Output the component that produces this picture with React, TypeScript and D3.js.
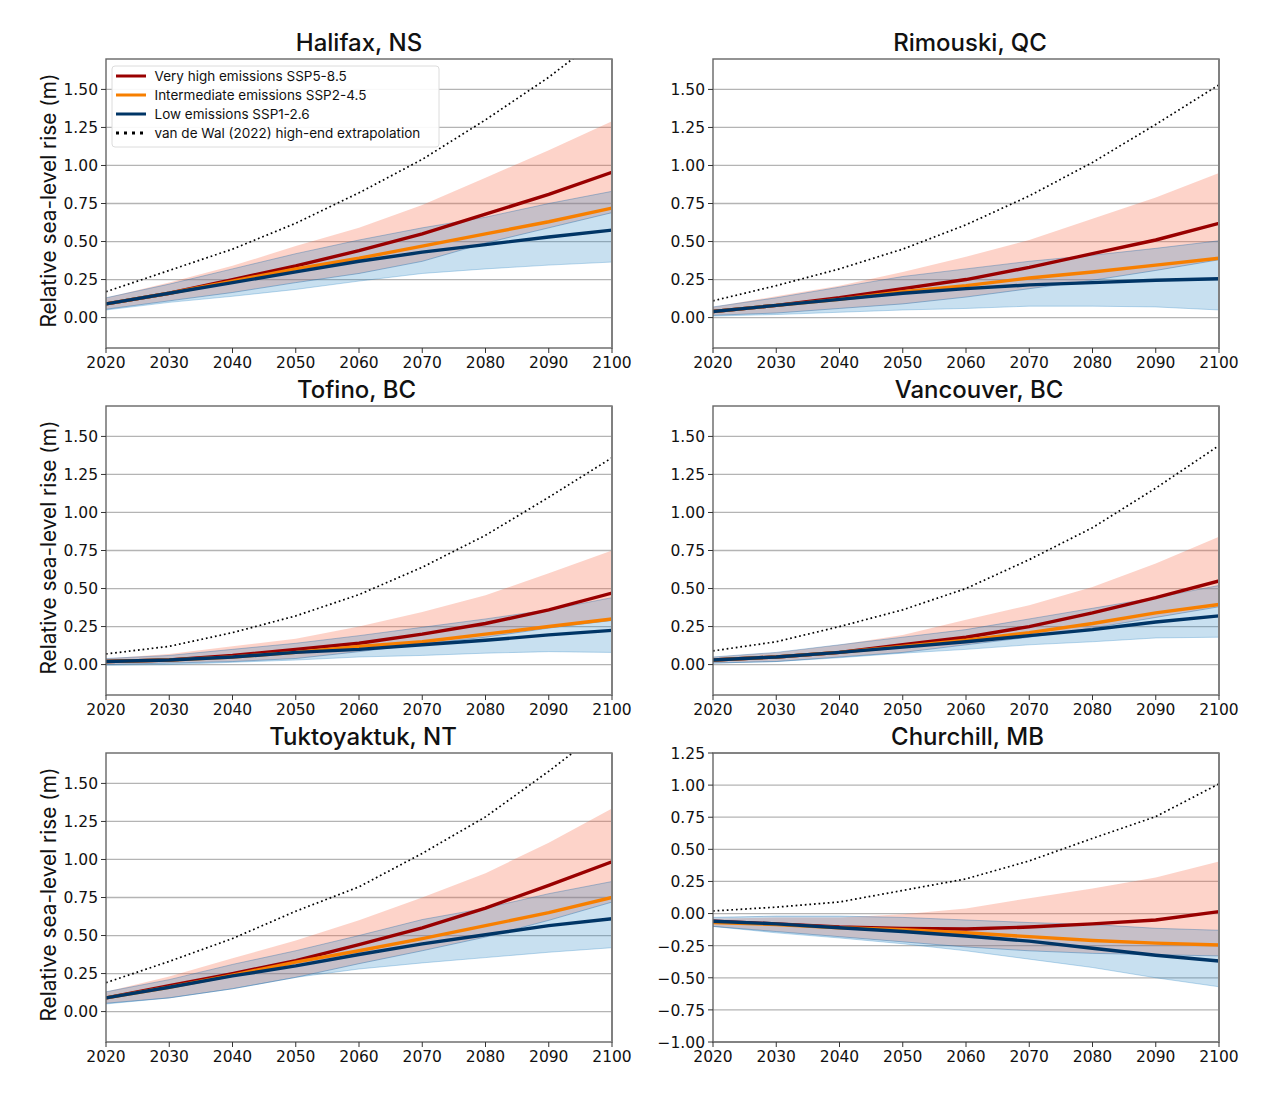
import * as d3 from "d3";

const years = [2020, 2030, 2040, 2050, 2060, 2070, 2080, 2090, 2100];
const xTicks = years;
const seaTicks = [0, 0.25, 0.5, 0.75, 1, 1.25, 1.5];
const churchillTicks = [-1, -0.75, -0.5, -0.25, 0, 0.25, 0.5, 0.75, 1, 1.25];

// medians
const halifaxHigh = [0.09, 0.16, 0.25, 0.34, 0.44, 0.55, 0.68, 0.81, 0.955];
const halifaxMid = [0.09, 0.16, 0.24, 0.32, 0.39, 0.47, 0.55, 0.63, 0.72];
const halifaxLow = [0.09, 0.16, 0.23, 0.3, 0.37, 0.43, 0.48, 0.53, 0.575];
const halifaxWal = [0.17, 0.31, 0.45, 0.62, 0.82, 1.04, 1.3, 1.58, 1.9];
const rimouskiHigh = [0.04, 0.08, 0.13, 0.19, 0.25, 0.33, 0.42, 0.51, 0.62];
const rimouskiMid = [0.04, 0.08, 0.12, 0.17, 0.21, 0.26, 0.3, 0.345, 0.39];
const rimouskiLow = [0.04, 0.08, 0.12, 0.16, 0.19, 0.215, 0.23, 0.245, 0.255];
const rimouskiWal = [0.11, 0.21, 0.32, 0.45, 0.61, 0.8, 1.02, 1.27, 1.53];
const tofinoHigh = [0.02, 0.03, 0.06, 0.1, 0.14, 0.2, 0.27, 0.36, 0.47];
const tofinoMid = [0.02, 0.03, 0.05, 0.08, 0.12, 0.15, 0.2, 0.25, 0.3];
const tofinoLow = [0.02, 0.03, 0.05, 0.08, 0.1, 0.13, 0.16, 0.195, 0.225];
const tofinoWal = [0.07, 0.12, 0.21, 0.32, 0.46, 0.64, 0.85, 1.1, 1.36];
const vancouverHigh = [0.03, 0.05, 0.08, 0.13, 0.18, 0.25, 0.34, 0.44, 0.55];
const vancouverMid = [0.03, 0.05, 0.08, 0.12, 0.16, 0.21, 0.27, 0.34, 0.395];
const vancouverLow = [0.03, 0.05, 0.08, 0.115, 0.15, 0.19, 0.23, 0.28, 0.32];
const vancouverWal = [0.09, 0.15, 0.25, 0.36, 0.5, 0.69, 0.9, 1.16, 1.44];
const tuktoyaktukHigh = [0.09, 0.17, 0.25, 0.335, 0.44, 0.55, 0.68, 0.83, 0.985];
const tuktoyaktukMid = [0.09, 0.16, 0.24, 0.325, 0.4, 0.48, 0.565, 0.65, 0.75];
const tuktoyaktukLow = [0.09, 0.16, 0.235, 0.3, 0.375, 0.445, 0.505, 0.565, 0.61];
const tuktoyaktukWal = [0.19, 0.33, 0.48, 0.66, 0.82, 1.04, 1.28, 1.58, 1.9];
const churchillHigh = [-0.06, -0.08, -0.105, -0.115, -0.12, -0.105, -0.08, -0.05, 0.015];
const churchillMid = [-0.07, -0.085, -0.11, -0.125, -0.15, -0.18, -0.21, -0.23, -0.245];
const churchillLow = [-0.06, -0.08, -0.11, -0.14, -0.175, -0.215, -0.27, -0.325, -0.37];
const churchillWal = [0.02, 0.05, 0.09, 0.18, 0.27, 0.41, 0.585, 0.755, 1.01];

// likely ranges: top and bottom of SSP5-8.5 and SSP1-2.6
const halifaxHighTop = [0.13, 0.23, 0.34, 0.47, 0.59, 0.74, 0.92, 1.1, 1.29];
const halifaxHighBot = [0.055, 0.11, 0.165, 0.23, 0.29, 0.37, 0.49, 0.59, 0.69];
const halifaxLowTop = [0.13, 0.22, 0.32, 0.42, 0.51, 0.59, 0.66, 0.75, 0.83];
const halifaxLowBot = [0.05, 0.1, 0.14, 0.185, 0.24, 0.29, 0.32, 0.345, 0.365];
const rimouskiHighTop = [0.07, 0.14, 0.21, 0.3, 0.4, 0.51, 0.65, 0.79, 0.95];
const rimouskiHighBot = [0.015, 0.03, 0.06, 0.09, 0.135, 0.19, 0.245, 0.31, 0.38];
const rimouskiLowTop = [0.07, 0.13, 0.2, 0.27, 0.32, 0.37, 0.41, 0.455, 0.505];
const rimouskiLowBot = [0.01, 0.02, 0.035, 0.05, 0.06, 0.075, 0.075, 0.07, 0.05];
const tofinoHighTop = [0.04, 0.07, 0.12, 0.17, 0.25, 0.345, 0.455, 0.6, 0.75];
const tofinoHighBot = [0, 0.01, 0.02, 0.04, 0.085, 0.135, 0.18, 0.24, 0.29];
const tofinoLowTop = [0.04, 0.06, 0.1, 0.14, 0.19, 0.245, 0.3, 0.36, 0.44];
const tofinoLowBot = [-0.005, 0, 0.015, 0.03, 0.05, 0.06, 0.075, 0.085, 0.08];
const vancouverHighTop = [0.05, 0.08, 0.13, 0.195, 0.295, 0.39, 0.51, 0.665, 0.84];
const vancouverHighBot = [0.01, 0.02, 0.05, 0.08, 0.13, 0.18, 0.24, 0.31, 0.38];
const vancouverLowTop = [0.05, 0.08, 0.13, 0.18, 0.23, 0.3, 0.37, 0.44, 0.52];
const vancouverLowBot = [0.01, 0.02, 0.045, 0.075, 0.1, 0.13, 0.15, 0.175, 0.18];
const tuktoyaktukHighTop = [0.13, 0.23, 0.35, 0.467, 0.6, 0.75, 0.91, 1.11, 1.335];
const tuktoyaktukHighBot = [0.055, 0.09, 0.15, 0.225, 0.315, 0.4, 0.49, 0.6, 0.72];
const tuktoyaktukLowTop = [0.13, 0.21, 0.31, 0.4, 0.5, 0.605, 0.68, 0.775, 0.855];
const tuktoyaktukLowBot = [0.05, 0.09, 0.15, 0.225, 0.28, 0.32, 0.355, 0.39, 0.42];
const churchillHighTop = [-0.04, -0.03, -0.03, -0.005, 0.04, 0.12, 0.195, 0.28, 0.405];
const churchillHighBot = [-0.1, -0.14, -0.18, -0.22, -0.26, -0.29, -0.31, -0.32, -0.33];
const churchillLowTop = [-0.03, -0.02, -0.02, -0.03, -0.05, -0.07, -0.085, -0.115, -0.13];
const churchillLowBot = [-0.1, -0.15, -0.19, -0.235, -0.29, -0.355, -0.42, -0.5, -0.57];

const legendLabels = [
  "Very high emissions SSP5-8.5",
  "Intermediate emissions SSP2-4.5",
  "Low emissions SSP1-2.6",
  "van de Wal (2022) high-end extrapolation",
];

const RED = "#990000";
const ORANGE = "#f77f00";
const NAVY = "#003566";
const TEXT_FONT = "Inter, sans-serif";
const TICK_FONT = "'DejaVu Sans', sans-serif";

const panels = [
  { title: "Halifax, NS", titleDx: 0, col: 0, row: 0, high: halifaxHigh, mid: halifaxMid, low: halifaxLow, wal: halifaxWal, highTop: halifaxHighTop, highBot: halifaxHighBot, lowTop: halifaxLowTop, lowBot: halifaxLowBot, domain: [-0.2, 1.7], ticks: seaTicks },
  { title: "Rimouski, QC", titleDx: 4, col: 1, row: 0, high: rimouskiHigh, mid: rimouskiMid, low: rimouskiLow, wal: rimouskiWal, highTop: rimouskiHighTop, highBot: rimouskiHighBot, lowTop: rimouskiLowTop, lowBot: rimouskiLowBot, domain: [-0.2, 1.7], ticks: seaTicks },
  { title: "Tofino, BC", titleDx: -2.5, col: 0, row: 1, high: tofinoHigh, mid: tofinoMid, low: tofinoLow, wal: tofinoWal, highTop: tofinoHighTop, highBot: tofinoHighBot, lowTop: tofinoLowTop, lowBot: tofinoLowBot, domain: [-0.2, 1.7], ticks: seaTicks },
  { title: "Vancouver, BC", titleDx: 13, col: 1, row: 1, high: vancouverHigh, mid: vancouverMid, low: vancouverLow, wal: vancouverWal, highTop: vancouverHighTop, highBot: vancouverHighBot, lowTop: vancouverLowTop, lowBot: vancouverLowBot, domain: [-0.2, 1.7], ticks: seaTicks },
  { title: "Tuktoyaktuk, NT", titleDx: 4, col: 0, row: 2, high: tuktoyaktukHigh, mid: tuktoyaktukMid, low: tuktoyaktukLow, wal: tuktoyaktukWal, highTop: tuktoyaktukHighTop, highBot: tuktoyaktukHighBot, lowTop: tuktoyaktukLowTop, lowBot: tuktoyaktukLowBot, domain: [-0.2, 1.7], ticks: seaTicks },
  { title: "Churchill, MB", titleDx: 1.5, col: 1, row: 2, high: churchillHigh, mid: churchillMid, low: churchillLow, wal: churchillWal, highTop: churchillHighTop, highBot: churchillHighBot, lowTop: churchillLowTop, lowBot: churchillLowBot, domain: [-1, 1.25], ticks: churchillTicks },
];

const colLeft = [106, 713];
const rowTop = [59, 406, 753];
const plotW = 506;
const plotH = 289;

const Panel = ({ p, index }: { p: (typeof panels)[number]; index: number }) => {
  const x = d3.scaleLinear().domain([2020, 2100]).range([0, plotW]);
  const y = d3.scaleLinear().domain(p.domain).range([plotH, 0]);
  const line = d3
    .line<number>()
    .x((_, i) => x(years[i]))
    .y((v) => y(v));
  const band = (top: number[], bot: number[]) =>
    d3
      .area<number>()
      .x((_, i) => x(years[i]))
      .y0((_, i) => y(bot[i]))
      .y1((v) => y(v))(top) ?? "";
  const clipId = `plot-${index}`;

  return (
    <g transform={`translate(${colLeft[p.col]},${rowTop[p.row]})`}>
      <clipPath id={clipId}>
        <rect width={plotW} height={plotH} />
      </clipPath>

      {/* gridlines */}
      {p.ticks.map((t) => (
        <line key={t} x1={0} x2={plotW} y1={y(t)} y2={y(t)} stroke="#b4b4b4" strokeWidth={1.3} />
      ))}

      <g clipPath={`url(#${clipId})`}>
        <path d={line(p.wal) ?? ""} fill="none" stroke="#000" strokeWidth={1.7} strokeDasharray="1.7 2.9" />
        <path d={band(p.highTop, p.highBot)} fill="#f9623c" fillOpacity={0.28} />
        <path d={band(p.lowTop, p.lowBot)} fill="#2b86c5" fillOpacity={0.26} />
        <path d={line(p.lowBot) ?? ""} fill="none" stroke="#2b86c5" strokeOpacity={0.3} strokeWidth={1} />
        <path d={line(p.lowTop) ?? ""} fill="none" stroke="#1f6aa8" strokeOpacity={0.35} strokeWidth={1} />
        <path d={line(p.highBot) ?? ""} fill="none" stroke="#1f6aa8" strokeOpacity={0.4} strokeWidth={1} />
        <path d={line(p.high) ?? ""} fill="none" stroke={RED} strokeWidth={3.4} />
        <path d={line(p.mid) ?? ""} fill="none" stroke={ORANGE} strokeWidth={3.4} />
        <path d={line(p.low) ?? ""} fill="none" stroke={NAVY} strokeWidth={3.4} />
      </g>

      {/* frame */}
      <rect width={plotW} height={plotH} fill="none" stroke="#666" strokeWidth={1.4} />
      <line x1={plotW} x2={plotW} y1={0} y2={plotH} stroke="#808080" strokeWidth={2} />

      {/* x axis */}
      {xTicks.map((t) => (
        <g key={t} transform={`translate(${x(t)},${plotH})`}>
          <line y2={5} stroke="#333" strokeWidth={1} />
          <text y={20} textAnchor="middle" fontFamily={TICK_FONT} fontSize={15.5} fill="#111">
            {t}
          </text>
        </g>
      ))}

      {/* y axis */}
      {p.ticks.map((t) => (
        <g key={t} transform={`translate(0,${y(t)})`}>
          <line x2={-5} stroke="#333" strokeWidth={1} />
          <text x={-8} dy="0.38em" textAnchor="end" fontFamily={TICK_FONT} fontSize={15.5} fill="#111">
            {d3.format(".2f")(t)}
          </text>
        </g>
      ))}

      {p.col === 0 && (
        <text
          transform={`translate(-50,${plotH / 2 - 3}) rotate(-90)`}
          textAnchor="middle"
          fontFamily={TEXT_FONT}
          fontSize={20.8}
          fill="#111"
        >
          Relative sea-level rise (m)
        </text>
      )}

      <text
        x={plotW / 2 + p.titleDx}
        y={-8}
        textAnchor="middle"
        fontFamily={TEXT_FONT}
        fontWeight={500}
        fontSize={24}
        fill="#111"
      >
        {p.title}
      </text>
    </g>
  );
};

const Legend = () => {
  const colors = [RED, ORANGE, NAVY, "#000"];
  return (
    <g transform="translate(112,66)">
      <rect width={327} height={81} rx={3} fill="#fff" fillOpacity={0.92} stroke="#dcdcdc" />
      {legendLabels.map((label, i) => (
        <g key={label} transform={`translate(0,${10 + i * 19})`}>
          <line
            x1={4}
            x2={34}
            stroke={colors[i]}
            strokeWidth={3}
            strokeDasharray={i === 3 ? "3 5" : undefined}
          />
          <text x={42.5} dy="0.36em" fontFamily={TEXT_FONT} fontSize={13.5} fill="#111">
            {label}
          </text>
        </g>
      ))}
    </g>
  );
};

export default function App() {
  return (
    <svg
      width={1280}
      height={1102}
      style={{ position: "absolute", left: 0, top: 0, display: "block", background: "#fff" }}
    >
      {panels.map((p, i) => (
        <Panel key={p.title} p={p} index={i} />
      ))}
      <Legend />
    </svg>
  );
}
